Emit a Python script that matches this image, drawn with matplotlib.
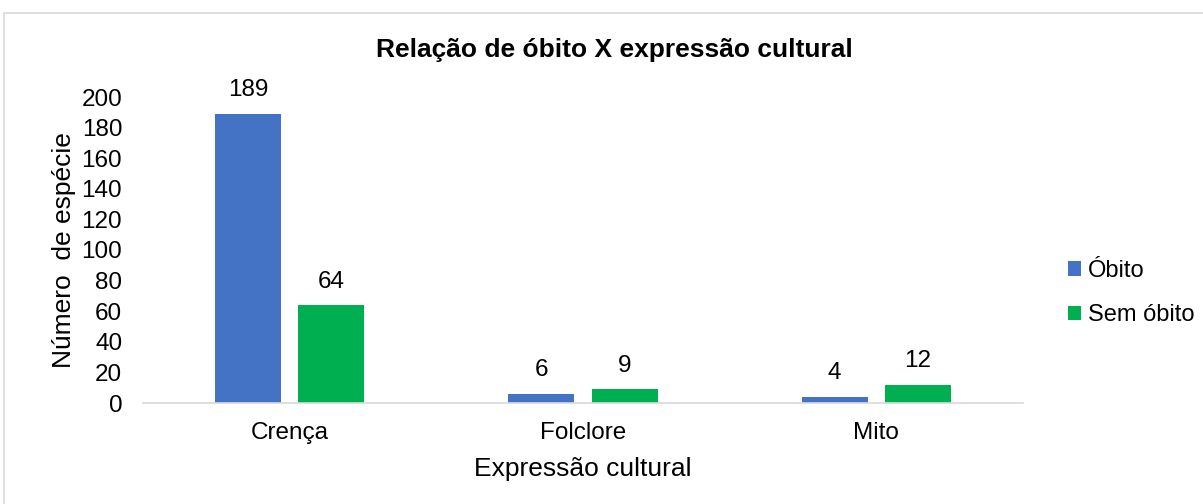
import matplotlib
matplotlib.use("Agg")
import matplotlib.pyplot as plt
from matplotlib.patches import Rectangle
import numpy as np

plt.rcParams['font.family'] = ['Liberation Sans', 'DejaVu Sans']

categories = ["Crença", "Folclore", "Mito"]
obito = [189, 6, 4]
sem_obito = [64, 9, 12]
series_names = ["Óbito", "Sem óbito"]
colors = ["#4472C4", "#00B050"]
yticks = list(range(0, 201, 20))

W, H = 1203, 504
fig = plt.figure(figsize=(W / 100, H / 100), dpi=100)

# chart frame (runs past the right and bottom edges)
fig.patches.append(Rectangle((4 / W, -0.1), 1.2, 1.1 - 13 / H, transform=fig.transFigure,
                             fill=False, edgecolor="#D9D9D9", linewidth=1.2))

ax = fig.add_axes([143 / W, 1 - 403 / H, (1023 - 143) / W, (403 - 97) / H])

x = np.arange(len(categories))
width = 0.225
offset = 0.142
bars1 = ax.bar(x - offset, obito, width, color=colors[0], label=series_names[0])
bars2 = ax.bar(x + offset, sem_obito, width, color=colors[1], label=series_names[1])

for bars, vals in ((bars1, obito), (bars2, sem_obito)):
    for b, v in zip(bars, vals):
        ax.annotate(str(v), (b.get_x() + b.get_width() / 2, v), xytext=(0, 9),
                    textcoords="offset points", ha="center", va="bottom",
                    fontsize=17.5, color="#000000", annotation_clip=False)

ax.set_xlim(-0.5, len(categories) - 0.5)
ax.set_ylim(0, 200)
ax.set_yticks(yticks)
ax.set_xticks(x)
ax.set_xticklabels(categories)
ax.tick_params(axis="both", length=0, labelsize=17.5, colors="#000000")
ax.tick_params(axis="y", pad=15)
ax.tick_params(axis="x", pad=14)
for s in ("top", "right", "left"):
    ax.spines[s].set_visible(False)
ax.spines["bottom"].set_color("#D9D9D9")
ax.spines["bottom"].set_linewidth(1.2)

ax.set_xlabel("Expressão cultural", fontsize=19)
ax.set_ylabel("Número  de espécie", fontsize=19)
ax.yaxis.set_label_coords((76 - 143) / (1023 - 143), 0.5)
ax.xaxis.set_label_coords(0.5, -(457 - 403) / (403 - 97))

fig.text(614 / W, 1 - 50 / H, "Relação de óbito X expressão cultural", ha="center",
         va="center", fontsize=19, fontweight="bold")

leg = ax.legend(loc="center left", bbox_to_anchor=(1047 / W, 1 - 293 / H),
                bbox_transform=fig.transFigure, frameon=False, fontsize=17,
                handlelength=0.55, handleheight=0.55, handletextpad=0.3,
                labelspacing=0.95)

fig.savefig("out.png", dpi=100)
